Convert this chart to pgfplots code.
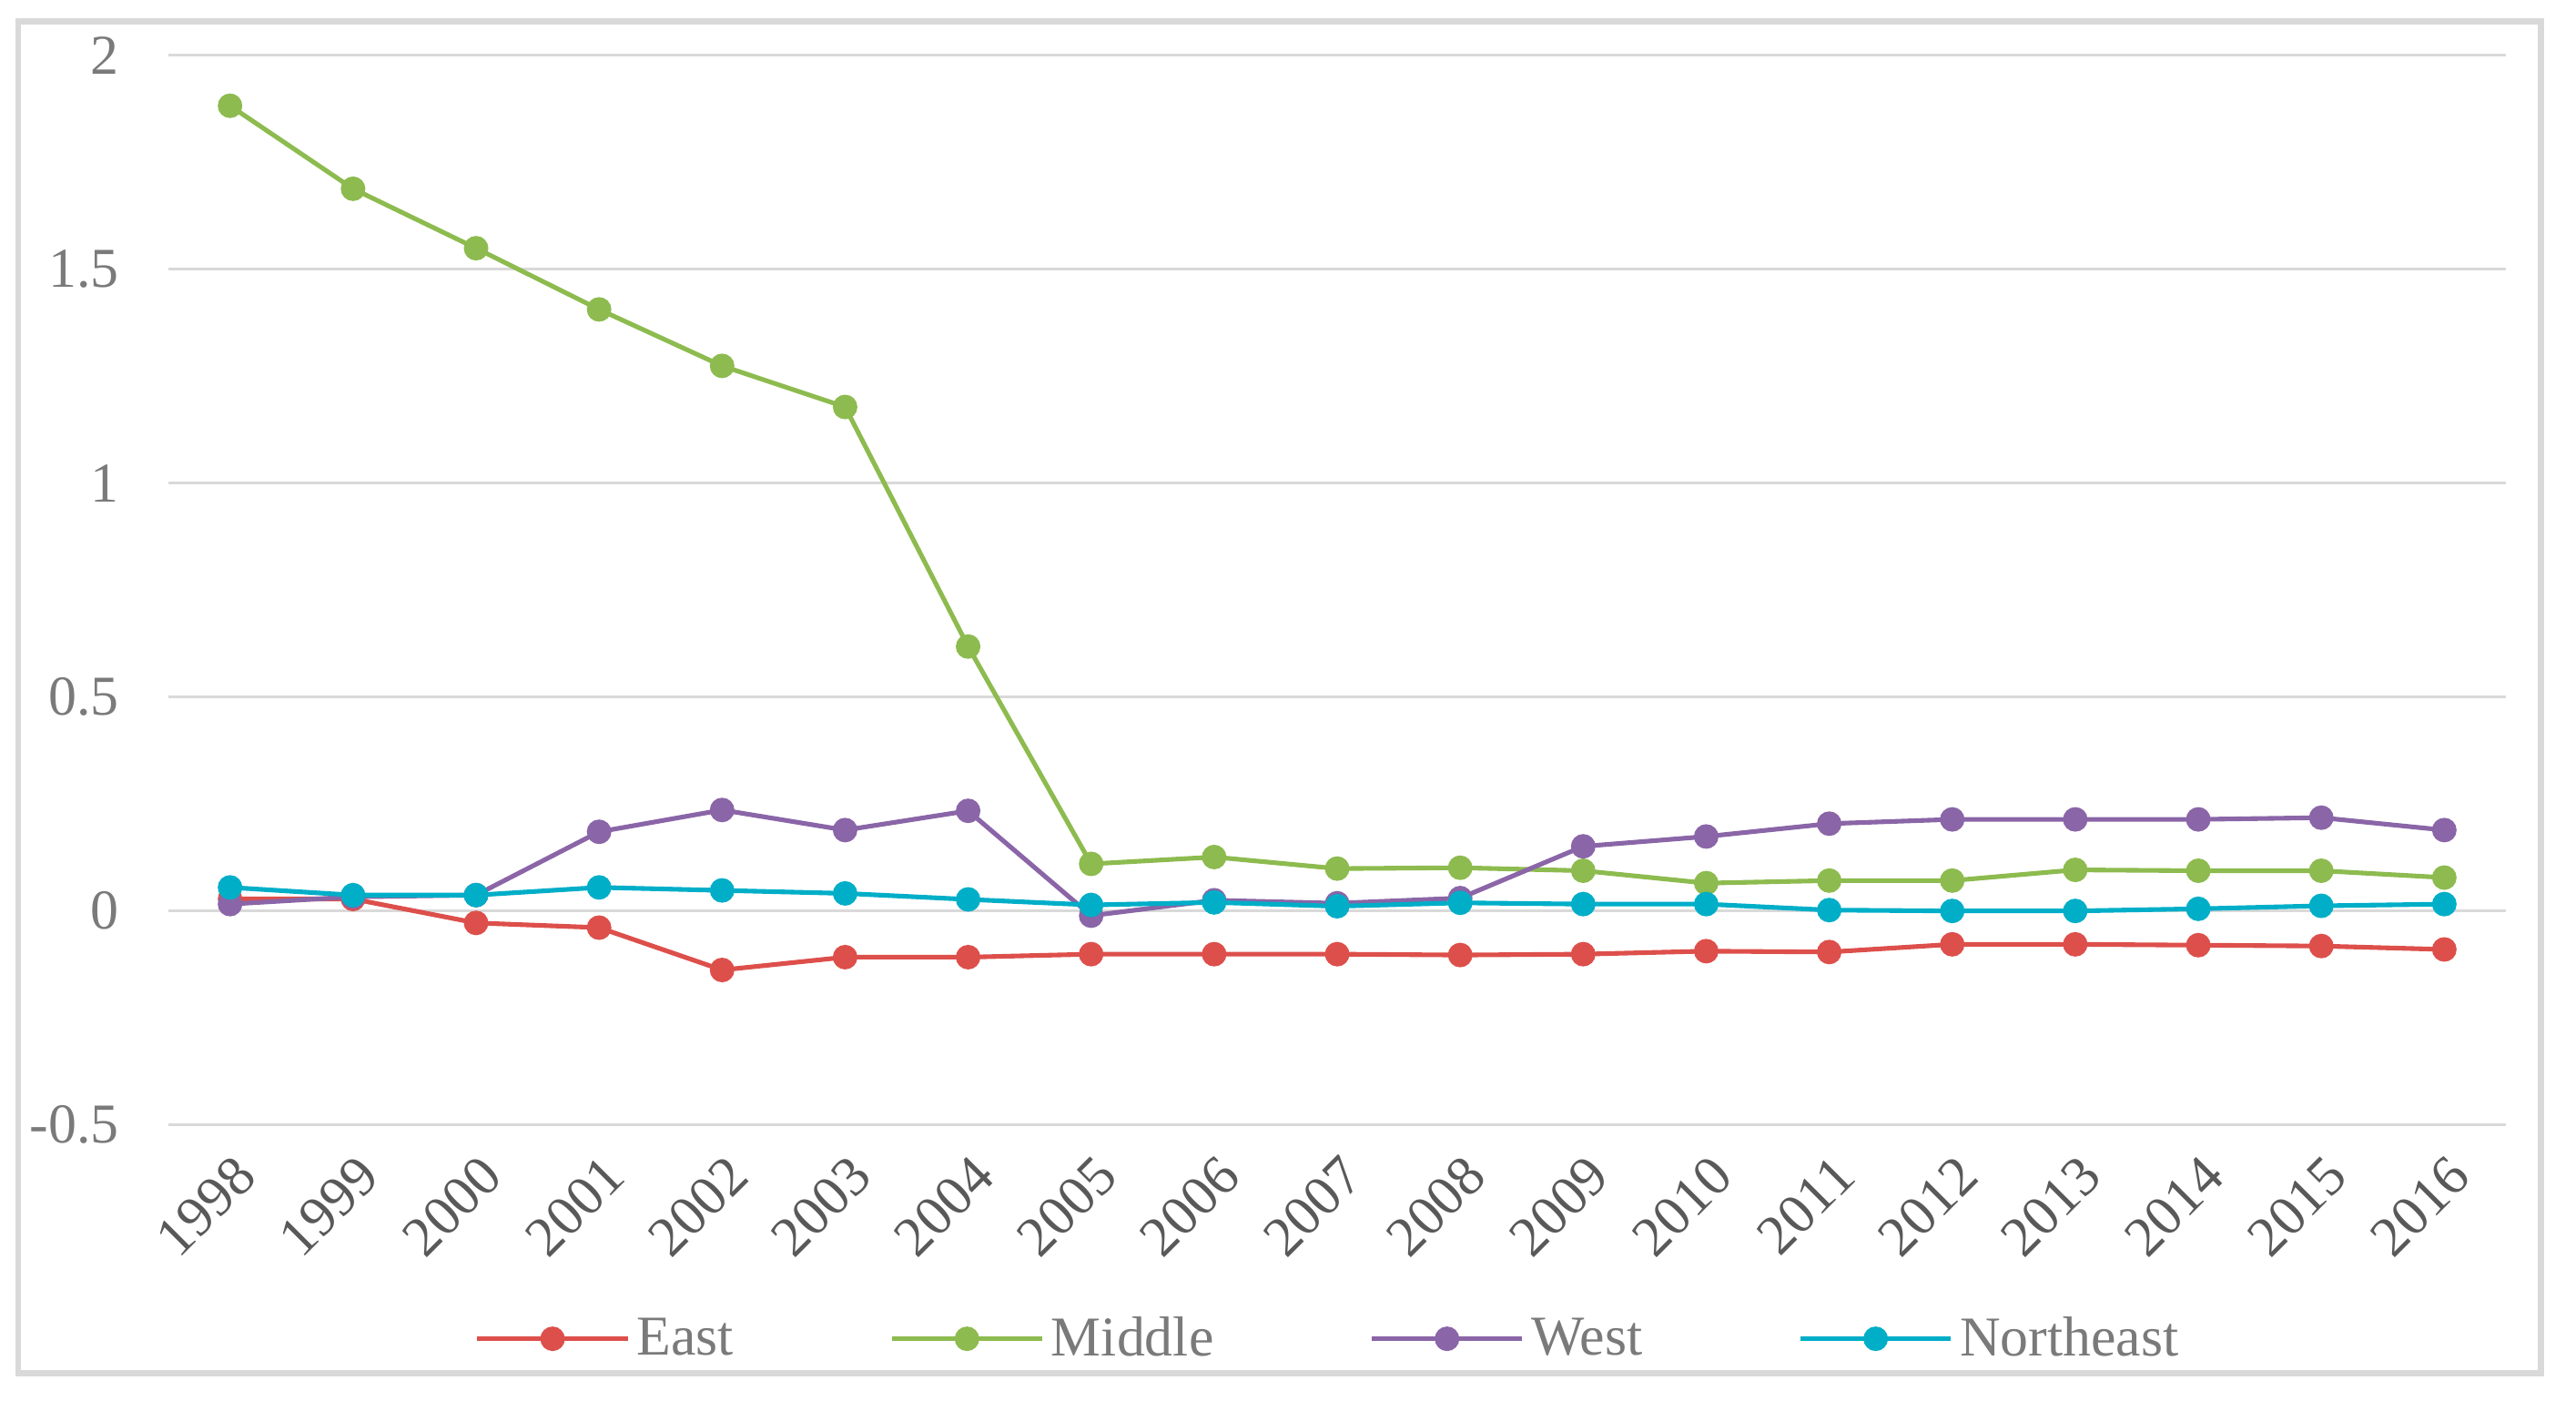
\documentclass[border=0pt]{standalone}
\usepackage{fontspec}
\setmainfont{Liberation Serif}
\usepackage{pgfplots}
\pgfplotsset{compat=1.18}
\definecolor{eastc}{HTML}{DD4F4B}
\definecolor{midc}{HTML}{8DBB4F}
\definecolor{westc}{HTML}{8A65A7}
\definecolor{nec}{HTML}{00AEC8}
\definecolor{gridc}{HTML}{D9D9D9}
\definecolor{ylab}{HTML}{7A7A7A}
\definecolor{xlab}{HTML}{595959}
\begin{document}
\begin{tikzpicture}
\path (0bp,0bp) rectangle (778bp,423bp);
\draw[gridc, line width=1.9bp] (5.5bp,8.25bp) rectangle (767.5bp,416.5bp);
\begin{axis}[
  at={(50.9bp,83.3bp)}, anchor=south west,
  scale only axis, width=705.9bp, height=323bp,
  xmin=1997.5, xmax=2016.5, ymin=-0.5, ymax=2,
  xtick={1998,...,2016}, ytick={-0.5,0,0.5,1,1.5,2},
  /pgf/number format/1000 sep={},
  /pgf/number format/assume math mode=true,
  axis line style={draw=none}, major tick length=0pt,
  ymajorgrids, grid style={gridc, line width=0.85bp},
  tick label style={font=\fontsize{17bp}{19bp}\selectfont},
  y tick label style={text=ylab, xshift=-11.5bp},
  x tick label style={text=xlab, rotate=45, anchor=north east, yshift=-3bp, xshift=-2bp},
  every axis plot/.append style={line width=1.4bp, mark=*, mark size=3bp},
  legend style={at={(0.497,-0.200)}, anchor=center, draw=none, fill=none,
    legend columns=4, font=\fontsize{17bp}{19bp}\selectfont, text=ylab,
    /tikz/every even column/.append style={column sep=45bp}},
  legend image code/.code={\draw[mark repeat=2, mark phase=2, #1]
    plot coordinates {(0bp,0bp) (22.75bp,0bp) (45.5bp,0bp)};},
]
% East
\addplot[eastc, mark options={fill=eastc, draw=eastc}] coordinates {
(1998,0.028) (1999,0.028) (2000,-0.028) (2001,-0.039) (2002,-0.138) (2003,-0.108)
(2004,-0.108) (2005,-0.101) (2006,-0.101) (2007,-0.101) (2008,-0.103) (2009,-0.101)
(2010,-0.094) (2011,-0.096) (2012,-0.078) (2013,-0.078) (2014,-0.080) (2015,-0.082) (2016,-0.090)};
% Middle
\addplot[midc, mark options={fill=midc, draw=midc}] coordinates {
(1998,1.882) (1999,1.688) (2000,1.549) (2001,1.406) (2002,1.274) (2003,1.178)
(2004,0.618) (2005,0.110) (2006,0.126) (2007,0.099) (2008,0.101) (2009,0.094)
(2010,0.065) (2011,0.071) (2012,0.071) (2013,0.096) (2014,0.094) (2015,0.094) (2016,0.078)};
% West
\addplot[westc, mark options={fill=westc, draw=westc}] coordinates {
(1998,0.016) (1999,0.033) (2000,0.037) (2001,0.185) (2002,0.236) (2003,0.189)
(2004,0.234) (2005,-0.011) (2006,0.025) (2007,0.018) (2008,0.030) (2009,0.151)
(2010,0.174) (2011,0.204) (2012,0.214) (2013,0.214) (2014,0.214) (2015,0.218) (2016,0.189)};
% Northeast
\addplot[nec, mark options={fill=nec, draw=nec}] coordinates {
(1998,0.055) (1999,0.037) (2000,0.037) (2001,0.055) (2002,0.048) (2003,0.041)
(2004,0.027) (2005,0.014) (2006,0.020) (2007,0.011) (2008,0.019) (2009,0.016)
(2010,0.016) (2011,0.002) (2012,0.000) (2013,0.000) (2014,0.005) (2015,0.012) (2016,0.016)};
\legend{East, Middle, West, Northeast}
\end{axis}
\end{tikzpicture}
\end{document}
